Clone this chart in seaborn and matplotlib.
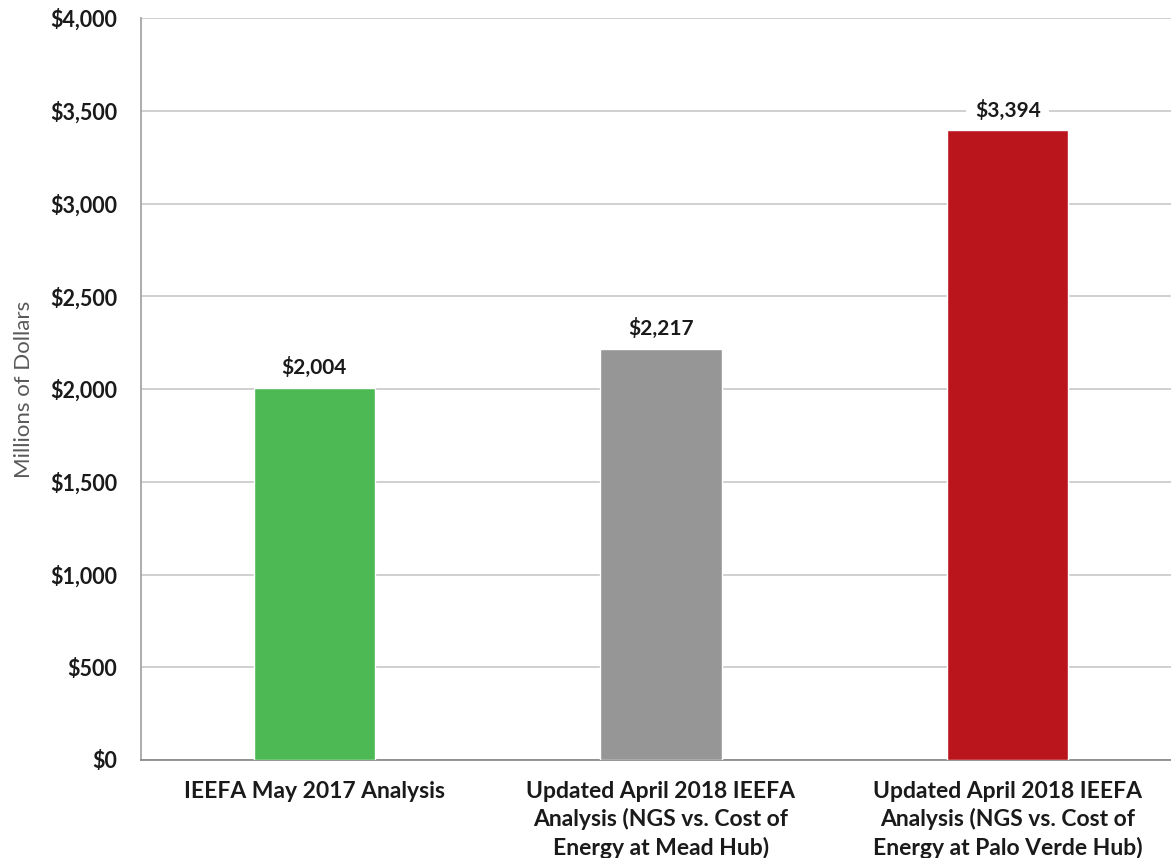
import matplotlib
matplotlib.use("Agg")
import matplotlib.pyplot as plt
import seaborn as sns
import pandas as pd

categories = [
    "IEEFA May 2017 Analysis",
    "Updated April 2018 IEEFA\nAnalysis (NGS vs. Cost of\nEnergy at Mead Hub)",
    "Updated April 2018 IEEFA\nAnalysis (NGS vs. Cost of\nEnergy at Palo Verde Hub)",
]
values = [2004, 2217, 3394]
colors = ["#4cb954", "#969696", "#ba141c"]
yticks = [0, 500, 1000, 1500, 2000, 2500, 3000, 3500, 4000]

sns.set_theme(style="white")
plt.rcParams["font.family"] = ["Lato", "DejaVu Sans"]

df = pd.DataFrame({"category": categories, "value": values})

fig = plt.figure(figsize=(11.71, 8.58), dpi=100)
ax = fig.add_axes([141 / 1171, 98 / 858, 1040 / 1171, 742 / 858])

sns.barplot(data=df, x="category", y="value", hue="category",
            palette=colors, width=0.35, legend=False, ax=ax, zorder=3,
            saturation=1)

ax.set_xlim(-0.5, 2.5)
ax.set_ylim(0, 4000)
ax.set_yticks(yticks)
ax.set_yticklabels(["${:,}".format(v) for v in yticks],
                   fontsize=15.5, fontweight="bold", color="#1a1a1a")
ax.tick_params(axis="x", labelsize=16.5, pad=15)
for lbl in ax.get_xticklabels():
    lbl.set_fontweight("bold")
    lbl.set_color("#1a1a1a")
    lbl.set_linespacing(1.35)
ax.tick_params(axis="y", pad=17, length=0)
ax.tick_params(axis="x", length=0)

ax.yaxis.grid(True, color="#c8c8c8", linewidth=1.2, zorder=0)
ax.set_axisbelow(True)
for s in ["top", "right"]:
    ax.spines[s].set_visible(False)
ax.spines["left"].set_color("#a6a6a6")
ax.spines["bottom"].set_color("#8c8c8c")
ax.spines["left"].set_linewidth(1.3)
ax.spines["bottom"].set_linewidth(1.3)

ax.set_xlabel("")
ax.set_ylabel("Millions of Dollars", fontsize=16, color="#595959", labelpad=12)

for i, v in enumerate(values):
    ax.text(i, v + 110, "${:,}".format(v), ha="center", va="center",
            fontsize=15, fontweight="bold", color="#1a1a1a", zorder=5,
            bbox=dict(facecolor="white", edgecolor="none", pad=6))

fig.savefig("out.png", dpi=100)
